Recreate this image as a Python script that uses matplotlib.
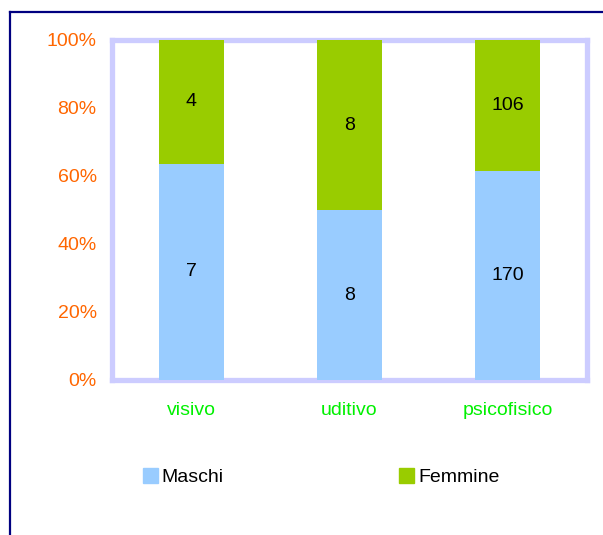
import matplotlib
matplotlib.use("Agg")
import matplotlib.pyplot as plt
import numpy as np
from matplotlib.patches import Patch
from matplotlib.lines import Line2D

categories = ['visivo', 'uditivo', 'psicofisico']
maschi = [7, 8, 170]
femmine = [4, 8, 106]
yticks_labels = ['0%', '20%', '40%', '60%', '80%', '100%']

male_col = '#99CCFF'
female_col = '#99CC00'

plt.rcParams['font.family'] = ['Liberation Sans', 'DejaVu Sans']

W, H = 603, 535
fig = plt.figure(figsize=(W / 100, H / 100), dpi=100)

# outer border (navy), runs off the right and bottom edges
fig.add_artist(Line2D([9.5 / W, 9.5 / W], [0, 1 - 11.5 / H], color='#000080', lw=1.6, transform=fig.transFigure))
fig.add_artist(Line2D([9.5 / W, 1], [1 - 11.5 / H, 1 - 11.5 / H], color='#000080', lw=1.6, transform=fig.transFigure))

ax = fig.add_axes([112 / W, 1 - 380 / H, (587 - 112) / W, (380 - 40) / H])

m = np.array(maschi, dtype=float)
f = np.array(femmine, dtype=float)
tot = m + f
mp = m / tot * 100
fp = f / tot * 100
x = np.arange(len(categories))
w = 0.41

# bars sit on top of the frame, as in the original
ax.bar(x, mp, w, color=male_col, label='Maschi', zorder=3)
ax.bar(x, fp, w, bottom=mp, color=female_col, label='Femmine', zorder=3)

for i in range(len(categories)):
    ax.text(x[i], mp[i] / 2, str(maschi[i]), ha='center', va='center', fontsize=14, color='black', zorder=4)
    ax.text(x[i], mp[i] + fp[i] / 2, str(femmine[i]), ha='center', va='center', fontsize=14, color='black', zorder=4)

ax.set_xlim(-0.5, 2.5)
ax.set_ylim(0, 100)
ax.set_yticks(np.arange(0, 101, 20))
ax.set_yticklabels(yticks_labels, color='#FF6600', fontsize=14)
ax.set_xticks(x)
ax.set_xticklabels(categories, color='#00F000', fontsize=14)
ax.tick_params(axis='y', length=0, pad=11)
ax.tick_params(axis='x', length=0, pad=16)
for s in ax.spines.values():
    s.set_color('#CCCCFF')
    s.set_linewidth(3.8)

handles = [Patch(color=male_col, label='Maschi'), Patch(color=female_col, label='Femmine')]
fig.legend(handles=handles, loc='center left', bbox_to_anchor=(135 / W, 1 - 477 / H), ncol=2,
           frameon=False, fontsize=14, handlelength=0.78, handleheight=0.78,
           handletextpad=0.2, columnspacing=9.0, borderaxespad=0)

fig.savefig('out.png', dpi=100)
